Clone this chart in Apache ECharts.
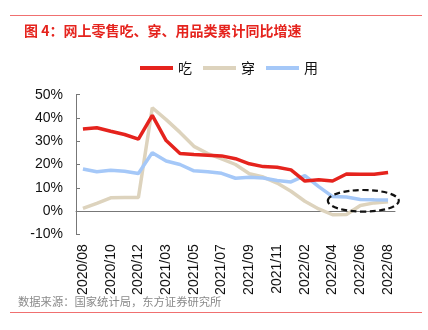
<!DOCTYPE html>
<html>
<head>
<meta charset="utf-8">
<script src="https://cdn.jsdelivr.net/npm/echarts@6/dist/echarts.min.js"></script>
<style>
html,body{margin:0;padding:0;background:#fff;}
#c{width:428px;height:330px;}
</style>
</head>
<body>
<div id="c"></div>
<script>
const categories = ['2020/08','2020/09','2020/10','2020/11','2020/12','2021/02','2021/03','2021/04','2021/05','2021/06','2021/07','2021/08','2021/09','2021/10','2021/11','2021/12','2022/02','2022/03','2022/04','2022/05','2022/06','2022/07','2022/08'];
const eat  = [35.3,35.8,34.3,32.9,30.9,41.1,30.3,24.7,24.3,24.0,23.7,22.5,20.3,19.1,18.8,17.7,12.9,13.4,12.9,15.9,15.8,15.8,16.6];
const wear = [1.1,3.3,5.7,5.8,5.8,44.4,39.3,33.8,27.8,24.7,22.4,20.0,16.0,14.6,12.0,8.5,4.2,0.9,-1.6,-1.5,2.4,3.5,4.0];
const use  = [18.1,16.9,17.5,17.1,16.1,25.1,21.5,20.0,17.3,16.9,16.2,14.1,14.5,14.2,13.1,12.5,15.2,10.5,6.2,6.0,5.0,4.8,4.7];
const yTicks = [-10,0,10,20,30,40,50];

const chart = echarts.init(document.getElementById('c'), null, {renderer:'canvas'});
const font = 'Liberation Sans, Arial, sans-serif';
const cjk = '"Noto Sans CJK SC", sans-serif';
const option = {
  animation:false,
  textStyle:{fontFamily:font},
  title:{
    text:'图 4：网上零售吃、穿、用品类累计同比增速',
    left:19, top:19,
    textStyle:{fontFamily:cjk,fontSize:14,fontWeight:'bold',color:'#e5231d'}
  },
  legend:{
    left:135, top:56,
    icon:'rect', itemWidth:33, itemHeight:4, itemGap:11,
    textStyle:{fontFamily:cjk,fontSize:14,color:'#111'},
    data:['吃','穿','用']
  },
  grid:{left:76,right:33,top:94.7,bottom:95.7,containLabel:false},
  xAxis:{
    type:'category', data:categories, boundaryGap:true,
    axisLine:{onZero:true,lineStyle:{color:'#777',width:1}},
    axisTick:{inside:true,length:4,interval:0,lineStyle:{color:'#777'}},
    axisLabel:{rotate:90,interval:1,margin:10,fontSize:14,color:'#111',fontFamily:font}
  },
  yAxis:{
    type:'value', min:yTicks[0], max:yTicks[yTicks.length-1], interval:10,
    splitLine:{show:false},
    axisLine:{show:true,lineStyle:{color:'#777'}},
    axisTick:{show:true,inside:true,length:4,lineStyle:{color:'#777'}},
    axisLabel:{formatter:'{value}%',fontSize:14,color:'#111',margin:13,fontFamily:font}
  },
  series:[
    {name:'吃',type:'line',data:eat,showSymbol:false,symbol:'none',lineStyle:{color:'#e5231d',width:3.5},itemStyle:{color:'#e5231d'},z:4},
    {name:'穿',type:'line',data:wear,showSymbol:false,symbol:'none',lineStyle:{color:'#ddd3bd',width:3.5},itemStyle:{color:'#ddd3bd'},z:2},
    {name:'用',type:'line',data:use,showSymbol:false,symbol:'none',lineStyle:{color:'#a5c8f8',width:3.5},itemStyle:{color:'#a5c8f8'},z:3}
  ],
  graphic:[
    {type:'line',shape:{x1:10,y1:15.5,x2:422,y2:15.5},style:{stroke:'#f07070',lineWidth:1}},
    {type:'line',shape:{x1:10,y1:312.5,x2:422,y2:312.5},style:{stroke:'#f07070',lineWidth:1}},
    {type:'text',left:18,top:296,style:{text:'数据来源：国家统计局，东方证券研究所',font:'11.3px "Noto Sans CJK SC", sans-serif',fill:'#8a8a8a'}}
  ]
};
chart.setOption(option);
const c1 = chart.convertToPixel({gridIndex:0}, ['2022/06', 4.4]);
chart.setOption({graphic:[
  {type:'line',shape:{x1:10,y1:15.5,x2:422,y2:15.5},style:{stroke:'#f07070',lineWidth:1}},
  {type:'line',shape:{x1:10,y1:312.5,x2:422,y2:312.5},style:{stroke:'#f07070',lineWidth:1}},
  {type:'text',left:18,top:296,style:{text:'数据来源：国家统计局，东方证券研究所',font:'11.3px "Noto Sans CJK SC", sans-serif',fill:'#8a8a8a'}},
  {type:'ellipse',shape:{cx:c1[0]+3,cy:c1[1],rx:35.5,ry:10.8},style:{fill:null,stroke:'#111',lineWidth:2.2,lineDash:[6,3.5]},z:10}
]}, {replaceMerge:['graphic']});
</script>
</body>
</html>
